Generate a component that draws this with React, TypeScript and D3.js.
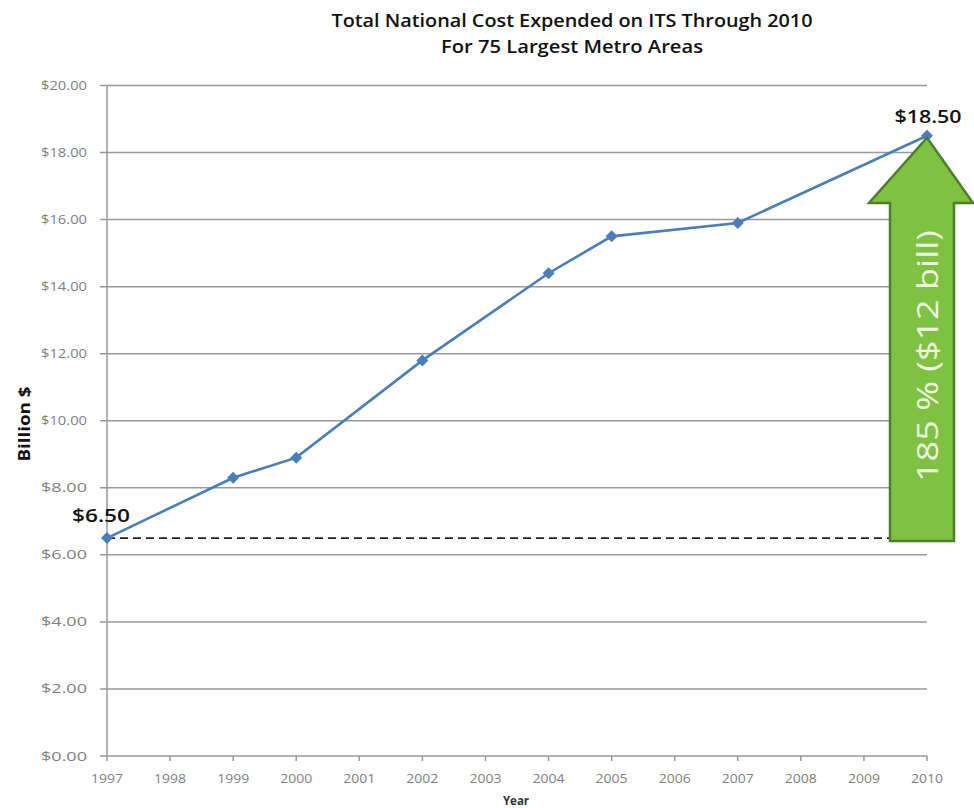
import React from "react";
import * as d3 from "d3";

const years = ["1997","1998","1999","2000","2001","2002","2003","2004","2005","2006","2007","2008","2009","2010"];
const dataYears = ["1997","1999","2000","2002","2004","2005","2007","2010"];
const dataValues = [6.5, 8.3, 8.9, 11.8, 14.4, 15.5, 15.9, 18.5];
const yTicks = [0, 2, 4, 6, 8, 10, 12, 14, 16, 18, 20];
const titleLines = ["Total National Cost Expended on ITS Through 2010", "For 75 Largest Metro Areas"];
const startLabel = "$6.50";
const endLabel = "$18.50";
const arrowText = "185 % ($12 bill)";

const W = 974, H = 808;
const left = 107, right = 927, top = 85.5, bottom = 756;

export default function App() {
  const x = d3.scalePoint<string>().domain(years).range([left, right]);
  const y = d3.scaleLinear().domain([0, 20]).range([bottom, top]);
  const pts = dataYears.map((yr, i) => ({ yr, v: dataValues[i] }));
  const line = d3.line<{ yr: string; v: number }>().x(d => x(d.yr)!).y(d => y(d.v));
  const font = "'Open Sans', Lato, sans-serif";
  const x0 = x(dataYears[0])!;
  const xEnd = x(dataYears[dataYears.length - 1])!;
  const yStart = y(dataValues[0]);
  const yEnd = y(dataValues[dataValues.length - 1]);
  const tipX = xEnd, tipY = yEnd + 2;
  const headBase = 203, shaftL = 890, shaftR = 954, wingL = 869, wingR = 973, arrowBottom = 541;
  const arrowPath = `M${tipX},${tipY} L${wingR},${headBase} L${shaftR},${headBase} L${shaftR},${arrowBottom} L${shaftL},${arrowBottom} L${shaftL},${headBase} L${wingL},${headBase} Z`;
  const diamond = "M0,-6 L6,0 L0,6 L-6,0 Z";
  const titleLens = [481, 262];
  return (
    <svg width={W} height={H} style={{ position: "absolute", left: 0, top: 0, background: "#fff" }}>
      <rect width={W} height={H} fill="#fff" />
      {titleLines.map((t, i) => (
        <text key={i} x={572} y={27 + i * 26} textAnchor="middle" fontFamily={font} fontSize={18} fontWeight={600} fill="#111" textLength={titleLens[i]} lengthAdjust="spacingAndGlyphs">{t}</text>
      ))}
      {yTicks.map(t => (
        <g key={t}>
          <line x1={left - 7} x2={right} y1={y(t)} y2={y(t)} stroke="#999" strokeWidth={1.5} />
          <text x={87} y={y(t) + 4.5} textAnchor="end" fontFamily={font} fontSize={12.5} fill="#808080" textLength={46} lengthAdjust="spacingAndGlyphs">{`$${t.toFixed(2)}`}</text>
        </g>
      ))}
      <line x1={left} x2={left} y1={top} y2={bottom} stroke="#999" strokeWidth={1.5} />
      {years.map(yr => (
        <g key={yr}>
          <line x1={x(yr)} x2={x(yr)} y1={bottom} y2={bottom + 5} stroke="#999" strokeWidth={1.5} />
          <text x={x(yr)!} y={783} textAnchor="middle" fontFamily={font} fontSize={12.5} fill="#808080" textLength={32} lengthAdjust="spacingAndGlyphs">{yr}</text>
        </g>
      ))}
      <line x1={x0} x2={shaftL} y1={yStart} y2={yStart} stroke="#222" strokeWidth={1.6} strokeDasharray="8,5" />
      <path d={line(pts) || ""} fill="none" stroke="#4a7ebb" strokeWidth={2.6} />
      {pts.map(p => (
        <path key={p.yr} d={diamond} transform={`translate(${x(p.yr)},${y(p.v)})`} fill="#4a7ebb" />
      ))}
      <path d={arrowPath} fill="#7fc241" stroke="#507d2a" strokeWidth={2.5} strokeLinejoin="miter" />
      <text transform={`translate(938,356) rotate(-90)`} textAnchor="middle" fontFamily={font} fontSize={29} fill="#eef7e2" textLength={252} lengthAdjust="spacingAndGlyphs">{arrowText}</text>
      <text x={101} y={522} textAnchor="middle" fontFamily={font} fontSize={18} fontWeight={600} fill="#111" textLength={58} lengthAdjust="spacingAndGlyphs">{startLabel}</text>
      <text x={928} y={123} textAnchor="middle" fontFamily={font} fontSize={18} fontWeight={600} fill="#111" textLength={67} lengthAdjust="spacingAndGlyphs">{endLabel}</text>
      <text transform="translate(30,424) rotate(-90)" textAnchor="middle" fontFamily={font} fontSize={16} fontWeight={700} fill="#111" textLength={75} lengthAdjust="spacingAndGlyphs">Billion $</text>
      <text x={516} y={805} textAnchor="middle" fontFamily={font} fontSize={11.5} fontWeight={700} fill="#333">Year</text>
    </svg>
  );
}
